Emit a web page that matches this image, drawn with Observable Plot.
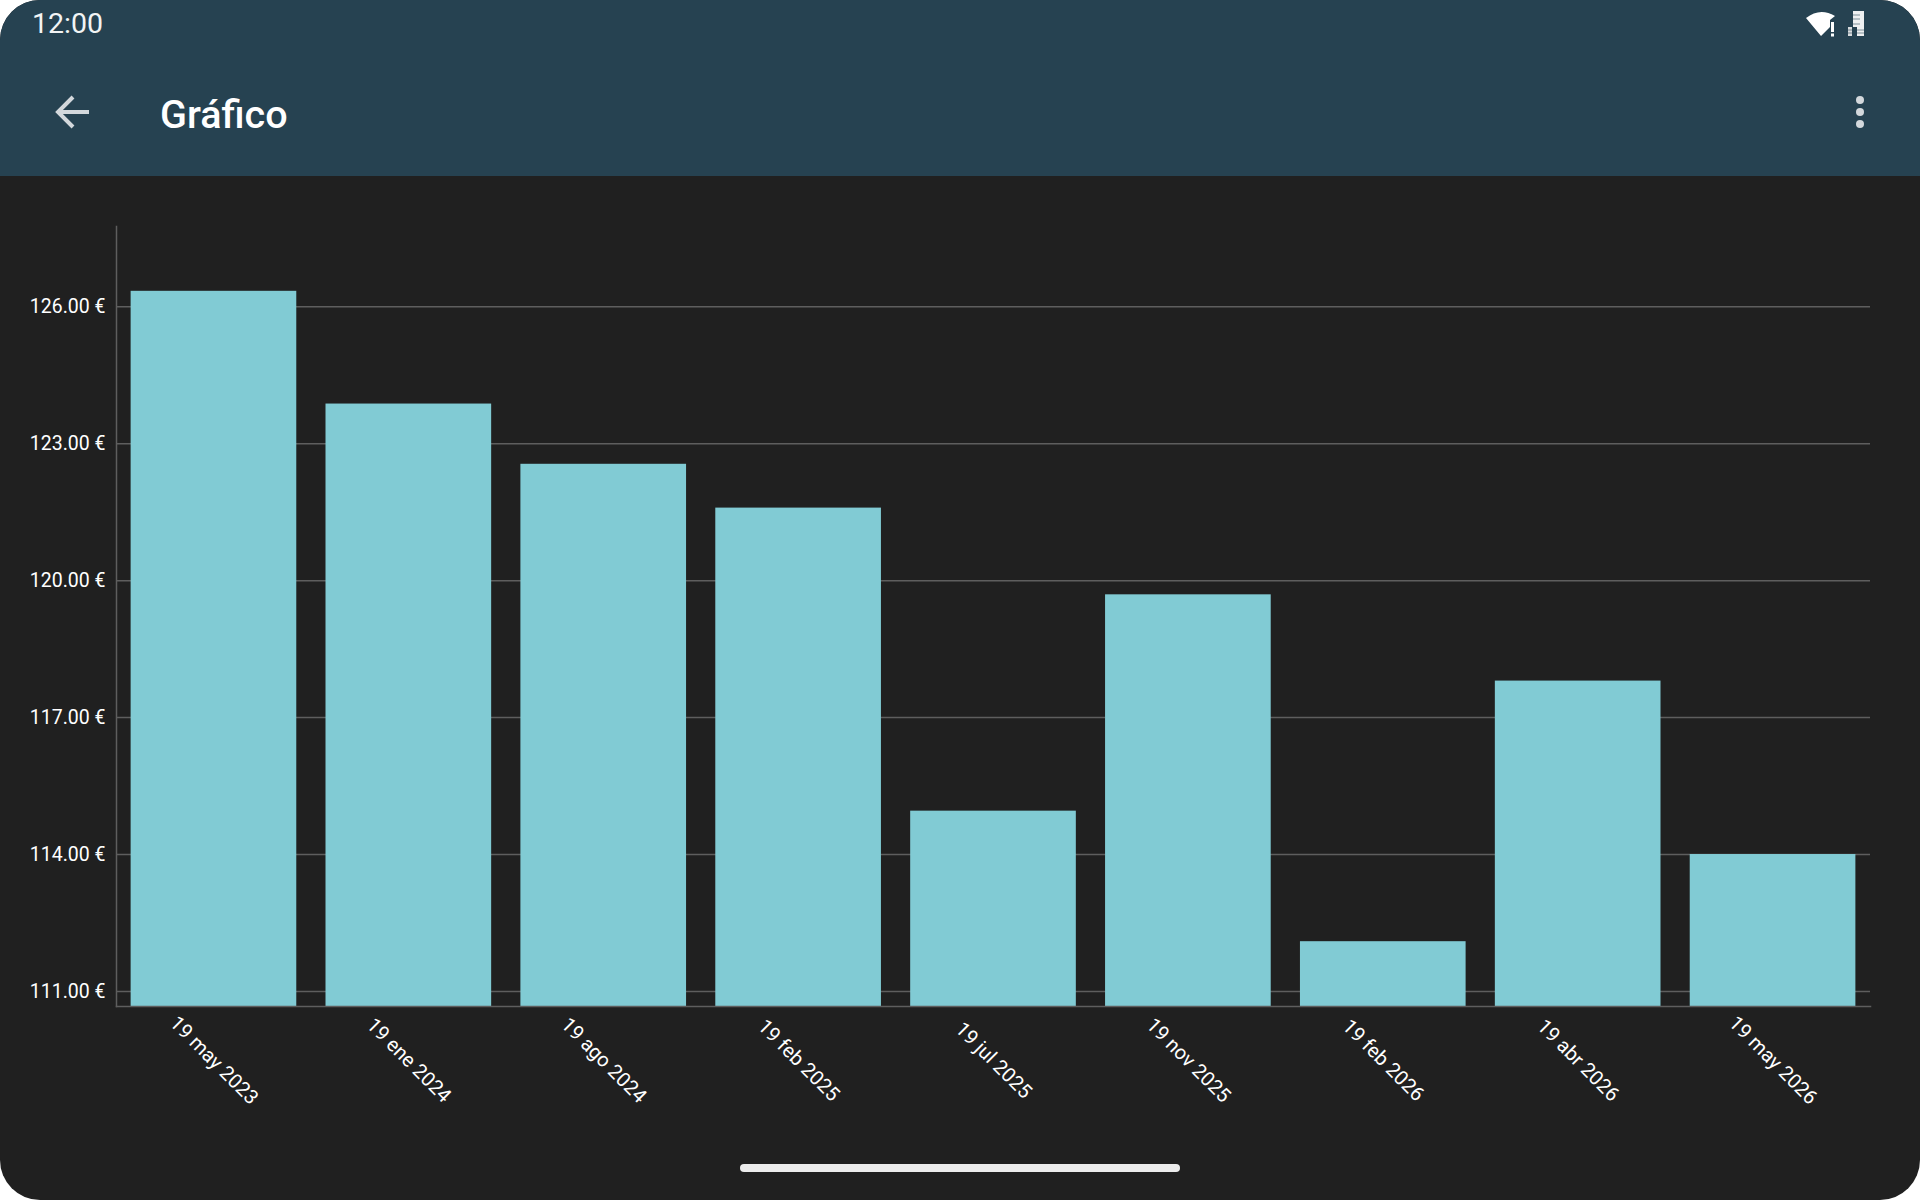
<!DOCTYPE html>
<html lang="es">
<head>
<meta charset="utf-8">
<script src="https://cdn.jsdelivr.net/npm/d3@7"></script>
<script src="https://cdn.jsdelivr.net/npm/@observablehq/plot@0.6"></script>
<style>
  html, body { margin: 0; padding: 0; background: #fff; }
  #frame { position: relative; width: 1920px; height: 1200px; background: #202020; border-radius: 40px; overflow: hidden; font-family: Roboto, sans-serif; color: #fff; }
  #bar { position: absolute; left: 0; top: 0; width: 1920px; height: 176px; background: #264251; }
  #time { position: absolute; left: 32px; top: 8px; font-size: 28.5px; line-height: 32px; color: #f2f4f5; }
  #title { position: absolute; left: 160px; top: 92px; font-size: 39.5px; line-height: 46px; font-weight: 500; }
  #icons { position: absolute; left: 0; top: 0; }
  #chart { position: absolute; left: 0; top: 176px; }
  #chart svg { display: block; background: transparent; }
  #pill { position: absolute; left: 740px; top: 1164px; width: 440px; height: 8px; border-radius: 4px; background: #ececec; }
</style>
</head>
<body>
<div id="frame">
  <div id="bar">
    <div id="time">12:00</div>
    <div id="title">Gráfico</div>
    <svg id="icons" width="1920" height="176">
      <path d="M58 112 H89 M73 97 L58 112 L73 127" fill="none" stroke="#d3d8dc" stroke-width="4"/>
      <circle cx="1860" cy="100" r="4" fill="#d3d8dc"/>
      <circle cx="1860" cy="112" r="4" fill="#d3d8dc"/>
      <circle cx="1860" cy="124" r="4" fill="#d3d8dc"/>
      <path d="M1806 18 Q1820 7 1835 16 L1830 20 L1830 27 L1821 36 Z" fill="#fff"/>
      <rect x="1831" y="22" width="3" height="10" fill="#fff"/>
      <rect x="1831" y="33.5" width="3" height="3" fill="#fff"/>
      <path d="M1853 11 H1864 V36 H1857 V27 H1853 Z" fill="#eef0f1"/>
      <rect x="1848" y="27" width="4" height="9" fill="#d8dcde"/>
      <path d="M1853 15 H1860 M1853 19 H1860 M1853 24 H1860 M1857 30 H1864 M1857 33 H1864 M1848 30 H1852 M1848 33 H1852" stroke="#264251" stroke-opacity="0.55" stroke-width="1"/>
    </svg>
  </div>
  <div id="chart"></div>
  <div id="pill"></div>
</div>
<script>
const dates = ["19 may 2023", "19 ene 2024", "19 ago 2024", "19 feb 2025", "19 jul 2025", "19 nov 2025", "19 feb 2026", "19 abr 2026", "19 may 2026"];
const prices = [126.34, 123.87, 122.55, 121.59, 114.95, 119.69, 112.09, 117.80, 114.00];
const yTicks = [111, 114, 117, 120, 123, 126];
const yDomain = [110.67, 127.76];

const table = dates.map((date, i) => ({date, price: prices[i]}));
const axisColor = "#5e5e5e";

const chart = Plot.plot({
  width: 1920,
  height: 1024,
  marginLeft: 116,
  marginRight: 50,
  marginTop: 50,
  marginBottom: 194,
  style: {background: "transparent", color: "#fff", fontFamily: "Roboto, sans-serif"},
  x: {domain: dates, paddingInner: 0.15, paddingOuter: 0.075, round: false, label: null},
  y: {domain: yDomain, label: null},
  marks: [
    Plot.ruleY(yTicks, {stroke: axisColor, strokeWidth: 1.5}),
    Plot.barY(table, {x: "date", y1: yDomain[0], y2: "price", fill: "#81cbd4"}),
    Plot.frame({anchor: "left", stroke: axisColor, strokeWidth: 1.5}),
    Plot.frame({anchor: "bottom", stroke: axisColor, strokeWidth: 1.5}),
    Plot.axisY({ticks: yTicks, tickSize: 0, tickPadding: 11, fontSize: 19.5, label: null, fill: "#fff", tickFormat: d => d.toFixed(2) + " €"}),
    Plot.axisX({tickSize: 0, tickPadding: 54, tickRotate: 45, textAnchor: "middle", lineAnchor: "middle", fontSize: 20, label: null, fill: "#fff"})
  ]
});
document.getElementById("chart").appendChild(chart);
</script>
</body>
</html>
